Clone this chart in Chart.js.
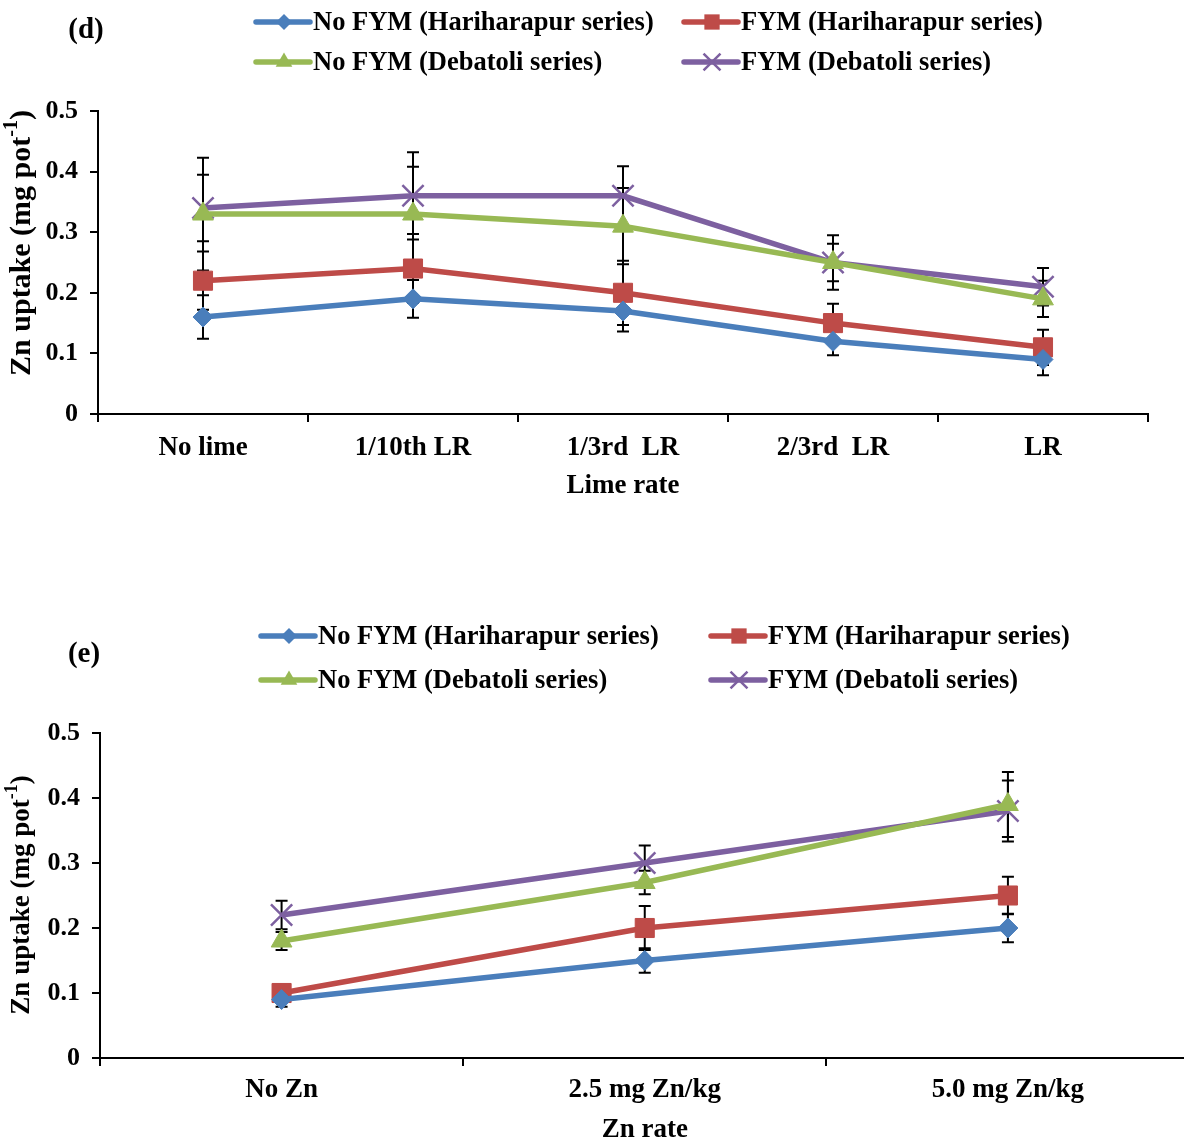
<!DOCTYPE html>
<html>
<head>
<meta charset="utf-8">
<title>Zn uptake by lime and Zn rate</title>
<script src="https://cdn.jsdelivr.net/npm/chart.js@4.4.1/dist/chart.umd.min.js"></script>
<style>
  html, body { margin: 0; padding: 0; background: #fff; overflow: hidden; width: 1184px; height: 1142px; }
  .panel { position: absolute; left: 0; }
  #panelD { top: 0; width: 1184px; height: 510px; }
  #panelE { top: 600px; width: 1207px; height: 542px; }
  canvas { display: block; }
</style>
</head>
<body>
<div class="panel" id="panelD"><canvas id="chartD" width="1184" height="510"></canvas></div>
<div class="panel" id="panelE"><canvas id="chartE" width="1207" height="542"></canvas></div>
<script>
// ---- Series names ----
const seriesNames = [
  'No FYM (Hariharapur series)',
  'FYM (Hariharapur series)',
  'No FYM (Debatoli series)',
  'FYM (Debatoli series)'
];

// ---- (d) Zn uptake vs lime rate ----
const limeRates = ['No lime', '1/10th LR', '1/3rd  LR', '2/3rd  LR', 'LR'];
const limeNoFymHari = [0.16, 0.19, 0.17, 0.12, 0.09];
const limeFymHari   = [0.22, 0.24, 0.20, 0.15, 0.11];
const limeNoFymDeba = [0.33, 0.33, 0.31, 0.25, 0.19];
const limeFymDeba   = [0.34, 0.36, 0.36, 0.25, 0.21];
const limeErrNoFymHari = [0.036, 0.031, 0.034, 0.023, 0.026];
const limeErrFymHari   = [0.048, 0.057, 0.053, 0.032, 0.029];
const limeErrNoFymDeba = [0.093, 0.078, 0.063, 0.031, 0.030];
const limeErrFymDeba   = [0.055, 0.072, 0.049, 0.045, 0.031];

// ---- (e) Zn uptake vs Zn rate ----
const znRates = ['No Zn', '2.5 mg Zn/kg', '5.0 mg Zn/kg'];
const znNoFymHari = [0.09, 0.15, 0.20];
const znFymHari   = [0.10, 0.20, 0.25];
const znNoFymDeba = [0.18, 0.27, 0.39];
const znFymDeba   = [0.22, 0.30, 0.38];
const znErrNoFymHari = [0.011, 0.019, 0.022];
const znErrFymHari   = [0.010, 0.034, 0.029];
const znErrNoFymDeba = [0.014, 0.018, 0.050];
const znErrFymDeba   = [0.022, 0.027, 0.047];

// ---- Shared styling ----
const FONT_FAMILY = '"Liberation Serif", "Times New Roman", Times, serif';
const TEXT_SIZE = 27;
const LEGEND_SIZE = 26.5;
const TICK_SIZE = 26;
const COLORS = ['#4A7EBB', '#BE4B48', '#98B954', '#7D60A0'];
const MARKERS = ['rectRot', 'rect', 'triangle', 'crossRot'];
const RADII = [10, 13.5, 12, 15];

function font(size) { return 'bold ' + size + 'px ' + FONT_FAMILY; }

function drawMarker(ctx, style, x, y, r, color) {
  ctx.save();
  ctx.fillStyle = color;
  ctx.strokeStyle = color;
  ctx.beginPath();
  if (style === 'rectRot') {
    ctx.moveTo(x - r, y); ctx.lineTo(x, y - r); ctx.lineTo(x + r, y); ctx.lineTo(x, y + r);
    ctx.closePath(); ctx.fill();
  } else if (style === 'rect') {
    const s = r * Math.SQRT1_2;
    ctx.rect(x - s, y - s, 2 * s, 2 * s); ctx.fill();
  } else if (style === 'triangle') {
    ctx.moveTo(x, y - r); ctx.lineTo(x + r * 0.866, y + r / 2); ctx.lineTo(x - r * 0.866, y + r / 2);
    ctx.closePath(); ctx.fill();
  } else {
    const s = r * Math.SQRT1_2;
    ctx.lineWidth = 2.5;
    ctx.moveTo(x - s, y - s); ctx.lineTo(x + s, y + s);
    ctx.moveTo(x + s, y - s); ctx.lineTo(x - s, y + s);
    ctx.stroke();
  }
  ctx.restore();
}

// Error bars, legend, panel letter and axis titles
const decorations = {
  id: 'decorations',
  beforeDatasetsDraw(chart) {
    const ctx = chart.ctx;
    const yScale = chart.scales.y;
    ctx.save();
    ctx.strokeStyle = '#000';
    ctx.lineWidth = 2;
    chart.data.datasets.forEach((ds, di) => {
      const meta = chart.getDatasetMeta(di);
      meta.data.forEach((pt, i) => {
        const v = ds.data[i], e = ds.errors[i];
        const yTop = yScale.getPixelForValue(v + e);
        const yBot = yScale.getPixelForValue(v - e);
        const x = pt.x;
        ctx.beginPath();
        ctx.moveTo(x, yTop); ctx.lineTo(x, yBot);
        ctx.moveTo(x - 6, yTop); ctx.lineTo(x + 6, yTop);
        ctx.moveTo(x - 6, yBot); ctx.lineTo(x + 6, yBot);
        ctx.stroke();
      });
    });
    ctx.restore();
  },
  afterDraw(chart) {
    const ctx = chart.ctx;
    const cfg = chart.options.plugins.decorations;
    const area = chart.chartArea;
    ctx.save();
    ctx.fillStyle = '#000';
    ctx.textBaseline = 'middle';

    // panel letter
    ctx.font = font(29);
    ctx.textAlign = 'center';
    ctx.fillText(cfg.letter, cfg.letterPos[0], cfg.letterPos[1]);

    // legend (2 x 2)
    ctx.font = font(LEGEND_SIZE);
    chart.data.datasets.forEach((ds, i) => {
      const col = i % 2, row = Math.floor(i / 2);
      const sx = cfg.legendX[col], y = cfg.legendY[row];
      ctx.save();
      ctx.strokeStyle = COLORS[i];
      ctx.lineWidth = 5.5;
      ctx.lineCap = 'round';
      ctx.beginPath();
      ctx.moveTo(sx, y); ctx.lineTo(sx + 54, y);
      ctx.stroke();
      ctx.restore();
      drawMarker(ctx, MARKERS[i], sx + 28, y, RADII[i] * 0.8, COLORS[i]);
      ctx.textAlign = 'left';
      ctx.fillStyle = '#000';
      ctx.fillText(ds.label, sx + 57, y + 1);
    });

    // x-axis title
    ctx.font = font(TEXT_SIZE);
    ctx.textAlign = 'center';
    ctx.fillText(cfg.xTitle, (area.left + area.right) / 2, cfg.xTitleY);

    // y-axis title with superscript
    const big = cfg.yTitleSize, small = Math.round(cfg.yTitleSize * 0.65);
    const main = 'Zn uptake (mg pot';
    const sup = '-1';
    const tail = ')';
    ctx.font = font(big);
    const wMain = ctx.measureText(main).width;
    const wTail = ctx.measureText(tail).width;
    ctx.font = font(small);
    const wSup = ctx.measureText(sup).width;
    const total = wMain + wSup + wTail;
    ctx.translate(cfg.yTitleX, cfg.yTitleY);
    ctx.rotate(-Math.PI / 2);
    ctx.textAlign = 'left';
    const x0 = -total / 2;
    ctx.font = font(big);
    ctx.fillText(main, x0, 0);
    ctx.font = font(small);
    ctx.fillText(sup, x0 + wMain, -big * 0.35);
    ctx.font = font(big);
    ctx.fillText(tail, x0 + wMain + wSup, 0);
    ctx.restore();
  }
};

function makeChart(id, labels, values, errors, layoutCfg, deco) {
  const canvas = document.getElementById(id);
  const H = canvas.height;
  const datasets = values.map((vals, i) => ({
    label: seriesNames[i],
    data: vals,
    errors: errors[i],
    borderColor: COLORS[i],
    backgroundColor: COLORS[i],
    borderWidth: 5.5,
    pointStyle: MARKERS[i],
    pointRadius: RADII[i],
    pointHoverRadius: RADII[i],
    pointBackgroundColor: COLORS[i],
    pointBorderColor: COLORS[i],
    pointBorderWidth: MARKERS[i] === 'crossRot' ? 2.5 : 1,
    tension: 0,
    fill: false
  }));
  return new Chart(canvas, {
    type: 'line',
    data: { labels, datasets },
    options: {
      responsive: false,
      devicePixelRatio: 1,
      animation: false,
      events: [],
      layout: { padding: { top: layoutCfg.top, left: 0, right: layoutCfg.right, bottom: 0 } },
      plugins: {
        legend: { display: false },
        tooltip: { enabled: false },
        decorations: deco
      },
      scales: {
        x: {
          offset: true,
          grid: { display: true, drawOnChartArea: false, drawTicks: true, tickLength: 8, offset: true, color: '#000', lineWidth: 2 },
          border: { display: true, color: '#000', width: 2 },
          ticks: { color: '#000', font: { family: FONT_FAMILY, size: TEXT_SIZE, weight: 'bold' }, padding: layoutCfg.xTickPad, maxRotation: 0, autoSkip: false },
          afterFit(scale) {
            scale.height = H - layoutCfg.bottom;
            scale.paddingLeft = 0;
            scale.paddingRight = 0;
          }
        },
        y: {
          min: 0, max: 0.5,
          grid: { display: true, drawOnChartArea: false, drawTicks: true, tickLength: 8, color: '#000', lineWidth: 2 },
          border: { display: true, color: '#000', width: 2 },
          ticks: {
            stepSize: 0.1, color: '#000', padding: 12,
            font: { family: FONT_FAMILY, size: TICK_SIZE, weight: 'bold' },
            callback: v => (Math.abs(v) < 1e-9 ? '0' : v.toFixed(1))
          },
          afterFit(scale) { scale.width = layoutCfg.left; }
        }
      }
    },
    plugins: [decorations]
  });
}

makeChart('chartD', limeRates,
  [limeNoFymHari, limeFymHari, limeNoFymDeba, limeFymDeba],
  [limeErrNoFymHari, limeErrFymHari, limeErrNoFymDeba, limeErrFymDeba],
  { top: 111, bottom: 414, left: 98, right: 1184 - 1148, xTickPad: 10 },
  { letter: '(d)', letterPos: [86, 31], legendX: [256, 684], legendY: [22, 62],
    xTitle: 'Lime rate', xTitleY: 486, yTitleX: 22, yTitleY: 243, yTitleSize: 30 }
);

makeChart('chartE', znRates,
  [znNoFymHari, znFymHari, znNoFymDeba, znFymDeba],
  [znErrNoFymHari, znErrFymHari, znErrNoFymDeba, znErrFymDeba],
  { top: 133, bottom: 458, left: 100, right: 2, xTickPad: 8 },
  { letter: '(e)', letterPos: [84, 55], legendX: [261, 711], legendY: [36, 80],
    xTitle: 'Zn rate', xTitleY: 530, yTitleX: 22, yTitleY: 295, yTitleSize: 27 }
);
</script>
</body>
</html>
